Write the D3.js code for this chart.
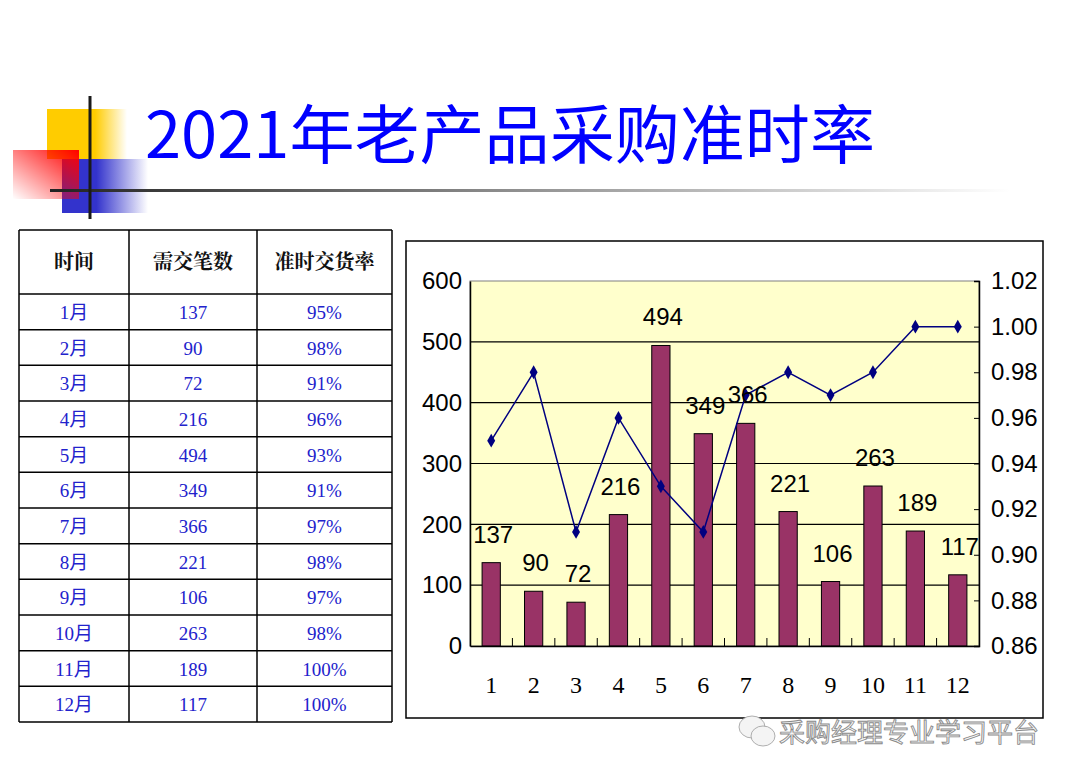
<!DOCTYPE html>
<html>
<head>
<meta charset="utf-8">
<script src="https://cdn.jsdelivr.net/npm/d3@7"></script>
<style>
  body { margin: 0; background: #fff; }
  svg { display: block; }
</style>
</head>
<body>
<div id="slide"></div>
<script>
// table + chart data
const months = ["1月","2月","3月","4月","5月","6月","7月","8月","9月","10月","11月","12月"];
const categories = ["1","2","3","4","5","6","7","8","9","10","11","12"];
const counts = [137, 90, 72, 216, 494, 349, 366, 221, 106, 263, 189, 117];
const rateLabels = ["95%","98%","91%","96%","93%","91%","97%","98%","97%","98%","100%","100%"];
const rates = [0.95, 0.98, 0.91, 0.96, 0.93, 0.91, 0.97, 0.98, 0.97, 0.98, 1.00, 1.00];
const headers = ["时间", "需交笔数", "准时交货率"];
const leftTicks = [0, 100, 200, 300, 400, 500, 600];
const rightTicks = [0.86, 0.88, 0.90, 0.92, 0.94, 0.96, 0.98, 1.00, 1.02];

const W = 1072, H = 777;
const svg = d3.select("#slide").append("svg")
    .attr("width", W)
    .attr("height", H);

const defs = svg.append("defs");

function fadeGrad(id, color, stop) {
    const g = defs.append("linearGradient").attr("id", id)
        .attr("x1", "0").attr("y1", "0").attr("x2", "1").attr("y2", "0");
    g.append("stop").attr("offset", stop).attr("stop-color", color).attr("stop-opacity", 1);
    g.append("stop").attr("offset", 1).attr("stop-color", color).attr("stop-opacity", 0);
}
fadeGrad("gYellow", "#ffcc00", 0.6);
fadeGrad("gBlue", "#3333cc", 0.4);

const red = defs.append("linearGradient").attr("id", "gRed")
    .attr("x1", "1").attr("y1", "0").attr("x2", "0").attr("y2", "1");
red.append("stop").attr("offset", 0).attr("stop-color", "#ff0000");
red.append("stop").attr("offset", 1).attr("stop-color", "#ff0000").attr("stop-opacity", 0);

const lineG = defs.append("linearGradient").attr("id", "gLine")
    .attr("x1", "0").attr("y1", "0").attr("x2", "1").attr("y2", "0");
lineG.append("stop").attr("offset", 0).attr("stop-color", "#222");
lineG.append("stop").attr("offset", 0.45).attr("stop-color", "#888");
lineG.append("stop").attr("offset", 1).attr("stop-color", "#fff");

// logo decoration
const logo = svg.append("g");
logo.append("rect").attr("x", 47).attr("y", 109).attr("width", 80).attr("height", 50).attr("fill", "url(#gYellow)");
logo.append("rect").attr("x", 62).attr("y", 159).attr("width", 86).attr("height", 54).attr("fill", "url(#gBlue)");
logo.append("rect").attr("x", 13).attr("y", 150).attr("width", 66).attr("height", 49).attr("fill", "url(#gRed)");
logo.append("rect").attr("x", 50).attr("y", 189).attr("width", 960).attr("height", 3).attr("fill", "url(#gLine)");
logo.append("rect").attr("x", 88.5).attr("y", 96).attr("width", 3).attr("height", 123).attr("fill", "#1a1a1a");

svg.append("text")
    .attr("x", 145).attr("y", 158)
    .attr("font-family", "'Noto Sans CJK SC', sans-serif")
    .attr("font-size", 64)
    .attr("textLength", 730)
    .attr("lengthAdjust", "spacingAndGlyphs")
    .attr("fill", "#0000ff")
    .text("2021年老产品采购准时率");

// ---------- table ----------
const tbl = { x: 19, y: 230, headH: 64, rowH: 35.67 };
const colX = [19, 129, 257, 392];
const tg = svg.append("g");
const rowY = i => tbl.y + tbl.headH + i * tbl.rowH;
const tableBottom = rowY(months.length);

// horizontal rules
const hLines = [tbl.y].concat(d3.range(months.length + 1).map(rowY));
tg.selectAll("line.h").data(hLines).join("line")
    .attr("x1", colX[0]).attr("x2", colX[3])
    .attr("y1", d => d).attr("y2", d => d)
    .attr("stroke", "#000").attr("stroke-width", 1.5);
tg.selectAll("line.v").data(colX).join("line")
    .attr("x1", d => d).attr("x2", d => d)
    .attr("y1", tbl.y).attr("y2", tableBottom)
    .attr("stroke", "#000").attr("stroke-width", 1.5);

const colMid = i => (colX[i] + colX[i + 1]) / 2;
tg.selectAll("text.head").data(headers).join("text")
    .attr("x", (d, i) => colMid(i))
    .attr("y", tbl.y + tbl.headH / 2 + 7)
    .attr("text-anchor", "middle")
    .attr("font-family", "'Noto Serif CJK SC', 'Noto Sans CJK SC', serif")
    .attr("font-weight", "bold")
    .attr("font-size", 20)
    .attr("fill", "#111")
    .text(d => d);

const rows = months.map((m, i) => [m, String(counts[i]), rateLabels[i]]);
rows.forEach((r, i) => {
    tg.selectAll(null).data(r).join("text")
        .attr("x", (d, j) => colMid(j))
        .attr("y", rowY(i) + tbl.rowH / 2 + 7)
        .attr("text-anchor", "middle")
        .attr("font-family", "'Liberation Serif', 'Noto Sans CJK SC', serif")
        .attr("font-size", 19)
        .attr("fill", "#2222cc")
        .text(d => d);
});

// ---------- chart ----------
svg.append("rect")
    .attr("x", 406).attr("y", 241).attr("width", 637).attr("height", 477)
    .attr("fill", "#fff").attr("stroke", "#000").attr("stroke-width", 1.5);

const plot = { left: 470, top: 281, right: 979, bottom: 646 };
const pw = plot.right - plot.left, ph = plot.bottom - plot.top;

const x = d3.scaleBand().domain(categories).range([plot.left, plot.right]).paddingInner(0).paddingOuter(0);
const y = d3.scaleLinear().domain([0, 600]).range([plot.bottom, plot.top]);
const y2 = d3.scaleLinear().domain([0.86, 1.02]).range([plot.bottom, plot.top]);

defs.append("clipPath").attr("id", "plotClip")
    .append("rect").attr("x", plot.left).attr("y", plot.top).attr("width", pw).attr("height", ph);

svg.append("rect")
    .attr("x", plot.left).attr("y", plot.top).attr("width", pw).attr("height", ph)
    .attr("fill", "#ffffcc").attr("stroke", "#808080").attr("stroke-width", 1);

// gridlines
svg.append("g").selectAll("line").data(leftTicks.filter(d => d > 0 && d < 600)).join("line")
    .attr("x1", plot.left).attr("x2", plot.right)
    .attr("y1", d => y(d)).attr("y2", d => y(d))
    .attr("stroke", "#000").attr("stroke-width", 1.2);

// bars
const barW = x.bandwidth() * 0.43;
svg.append("g").selectAll("rect").data(counts).join("rect")
    .attr("x", (d, i) => x(categories[i]) + (x.bandwidth() - barW) / 2)
    .attr("y", d => y(d))
    .attr("width", barW)
    .attr("height", d => y(0) - y(d))
    .attr("fill", "#993366")
    .attr("stroke", "#000").attr("stroke-width", 1);

// left axis
const axL = svg.append("g")
    .attr("transform", `translate(${plot.left},0)`)
    .call(d3.axisLeft(y).tickValues(leftTicks).tickSize(0).tickPadding(8).tickFormat(d3.format("d")));
axL.select(".domain").attr("stroke", "#000").attr("stroke-width", 1.5);
axL.selectAll("text").attr("font-family", "'Liberation Sans', Arial, sans-serif").attr("font-size", 24).attr("fill", "#000");

// right axis
const axR = svg.append("g")
    .attr("transform", `translate(${plot.right},0)`)
    .call(d3.axisRight(y2).tickValues(rightTicks).tickSize(-5).tickPadding(12).tickFormat(d3.format(".2f")));
axR.select(".domain").attr("stroke", "#000").attr("stroke-width", 1.5);
axR.selectAll(".tick line").attr("stroke", "#000");
axR.selectAll("text").attr("font-family", "'Liberation Sans', Arial, sans-serif").attr("font-size", 24).attr("fill", "#000");

// bottom axis
const axB = svg.append("g")
    .attr("transform", `translate(0,${plot.bottom})`)
    .call(d3.axisBottom(x).tickSize(0).tickPadding(30));
axB.select(".domain").attr("stroke", "#000").attr("stroke-width", 1.5);
axB.selectAll("text").attr("font-family", "'Liberation Serif', 'Times New Roman', serif").attr("font-size", 24).attr("fill", "#000");
svg.append("g").selectAll("line").data(categories.slice(1)).join("line")
    .attr("x1", d => x(d)).attr("x2", d => x(d))
    .attr("y1", plot.bottom).attr("y2", plot.bottom - 8)
    .attr("stroke", "#000").attr("stroke-width", 1);

// rate line
const pts = rates.map((r, i) => [x(categories[i]) + x.bandwidth() / 2, y2(r)]);
svg.append("path")
    .attr("d", d3.line()(pts))
    .attr("fill", "none").attr("stroke", "#000080").attr("stroke-width", 1.5);
svg.append("g").selectAll("path").data(pts).join("path")
    .attr("transform", d => `translate(${d[0]},${d[1]})`)
    .attr("d", d3.symbol(d3.symbolDiamond, 55))
    .attr("fill", "#000080");

// data labels
svg.append("g").attr("clip-path", "url(#plotClip)")
    .selectAll("text").data(counts).join("text")
    .attr("x", (d, i) => x(categories[i]) + x.bandwidth() / 2 + 2)
    .attr("y", d => y(d) - 20)
    .attr("text-anchor", "middle")
    .attr("font-family", "'Liberation Sans', Arial, sans-serif")
    .attr("font-size", 24)
    .attr("fill", "#000")
    .text(d => d);

// watermark
const wm = svg.append("g").attr("fill", "#f4f4f4").attr("stroke", "#9a9a9a").attr("stroke-width", 0.8);
wm.append("ellipse").attr("cx", 752).attr("cy", 727).attr("rx", 13).attr("ry", 11);
wm.append("ellipse").attr("cx", 763).attr("cy", 736).attr("rx", 12).attr("ry", 10);
svg.append("text")
    .attr("x", 779).attr("y", 742)
    .attr("font-family", "'Noto Sans CJK SC', sans-serif")
    .attr("font-size", 26)
    .attr("fill", "#f6f6f6").attr("stroke", "#8a8a8a").attr("stroke-width", 0.9)
    .text("采购经理专业学习平台");
</script>
</body>
</html>
